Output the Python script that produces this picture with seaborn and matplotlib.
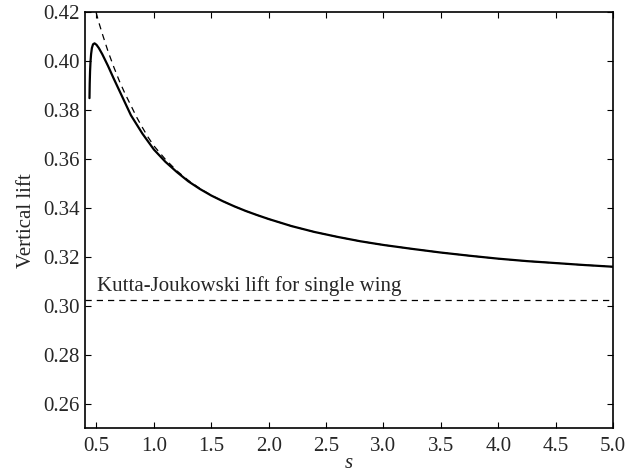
import numpy as np
import pandas as pd
import matplotlib
matplotlib.use("Agg")
import matplotlib.pyplot as plt
import seaborn as sns

# Solid curve: computed vertical lift
s_solid = [0.439, 0.441, 0.444, 0.448, 0.453, 0.460, 0.470, 0.483, 0.50, 0.52,
           0.55, 0.60, 0.65, 0.70, 0.75, 0.80, 0.90, 1.00, 1.10, 1.20,
           1.30, 1.40, 1.50, 1.60, 1.70, 1.80, 1.90, 2.00, 2.20, 2.40,
           2.60, 2.80, 3.00, 3.25, 3.50, 3.75, 4.00, 4.25, 4.50, 4.75, 5.00]
lift_solid = [0.3850, 0.3910, 0.3960, 0.4000, 0.4030, 0.4055, 0.4070, 0.4074, 0.4068, 0.4055,
              0.4030, 0.3982, 0.3930, 0.3880, 0.3830, 0.3780, 0.3705, 0.3640, 0.3590, 0.3548,
              0.3510, 0.3479, 0.3452, 0.3429, 0.3408, 0.3389, 0.3372, 0.3356, 0.3327, 0.3303,
              0.3283, 0.3265, 0.3250, 0.3234, 0.3219, 0.3206, 0.3194, 0.3184, 0.3176, 0.3168, 0.3161]

# Dashed curve: asymptotic approximation
s_dashed = [0.497, 0.52, 0.55, 0.60, 0.65, 0.70, 0.75, 0.80, 0.85, 0.90,
            0.95, 1.00, 1.10, 1.20, 1.30, 1.40, 1.50, 1.60, 1.70, 1.80,
            1.90, 2.00, 2.20, 2.40, 2.60, 2.80, 3.00, 3.25, 3.50, 3.75,
            4.00, 4.25, 4.50, 4.75, 5.00]
lift_dashed = [0.4200, 0.4160, 0.4114, 0.4042, 0.3978, 0.3919, 0.3867, 0.3820, 0.3772, 0.3730,
               0.3690, 0.3655, 0.3600, 0.3553, 0.3514, 0.3481, 0.3453, 0.3429, 0.3408, 0.3389,
               0.3372, 0.3356, 0.3327, 0.3303, 0.3283, 0.3265, 0.3250, 0.3234, 0.3219, 0.3206,
               0.3194, 0.3184, 0.3176, 0.3168, 0.3161]

kj_lift = 0.3026
kj_label = "Kutta-Joukowski lift for single wing"

x_ticks = [0.5, 1.0, 1.5, 2.0, 2.5, 3.0, 3.5, 4.0, 4.5, 5.0]
y_ticks = [0.26, 0.28, 0.30, 0.32, 0.34, 0.36, 0.38, 0.40, 0.42]

sns.set_style("ticks")
plt.rcParams["font.family"] = ["Liberation Serif", "DejaVu Serif"]

FS = 15

fig = plt.figure(figsize=(6.26, 4.73), dpi=100)
ax = fig.add_axes([0.1358, 0.0941, 0.8434, 0.8795])

df_s = pd.DataFrame({"s": s_solid, "lift": lift_solid})
df_d = pd.DataFrame({"s": s_dashed, "lift": lift_dashed})

sns.lineplot(data=df_d, x="s", y="lift", ax=ax, color="black", linewidth=0.9,
             linestyle=(0, (5, 4)), sort=False)
sns.lineplot(data=df_s, x="s", y="lift", ax=ax, color="black", linewidth=1.6, sort=False)
ax.axhline(kj_lift, color="black", linewidth=0.9, linestyle=(0, (5, 4)))

ax.text(0.504, 0.3062, kj_label, fontsize=FS, ha="left", va="baseline")

ax.set_xlim(0.4, 5.0)
ax.set_ylim(0.25, 0.42)
ax.set_xticks(x_ticks)
ax.set_yticks(y_ticks)
ax.set_xticklabels([f"{v:.1f}" for v in x_ticks])
ax.set_yticklabels([f"{v:.2f}" for v in y_ticks])
ax.tick_params(direction="in", length=4, width=0.8, labelsize=FS,
               top=True, right=True, color="black")
ax.tick_params(axis="x", pad=6)
ax.tick_params(axis="y", pad=4)
for sp in ax.spines.values():
    sp.set_visible(True)
    sp.set_linewidth(1.2)
    sp.set_color("black")

ax.set_xlabel("s", fontsize=FS, style="italic", labelpad=-1)
ax.set_ylabel("Vertical lift", fontsize=FS, labelpad=5)

fig.savefig("out.png", dpi=100)
